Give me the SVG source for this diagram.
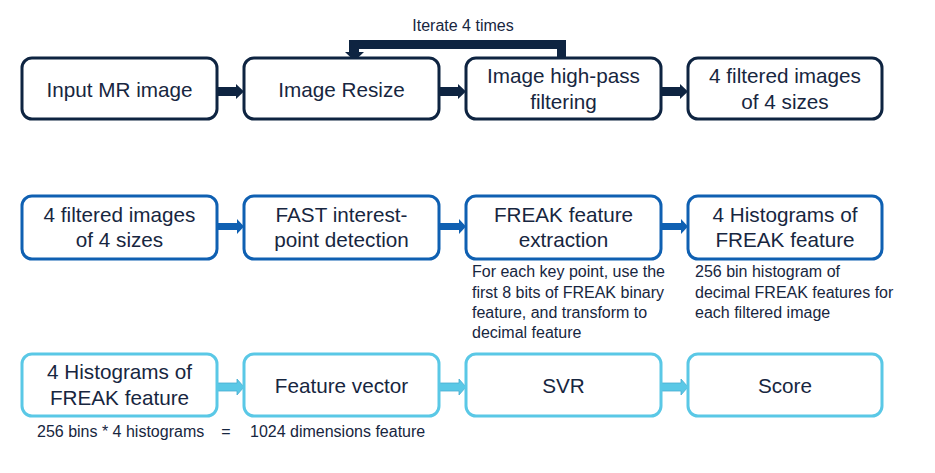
<svg xmlns="http://www.w3.org/2000/svg" width="935" height="473" viewBox="0 0 935 473">
<style>
.box{fill:#fff;stroke-width:3}
.r1{stroke:#0e2441}
.r2{stroke:#0f60b2}
.r3{stroke:#5ac8e6}
text{font-family:"Liberation Sans",Arial,sans-serif;fill:#172640}
.t{font-size:20.7px;text-anchor:middle}
.n{font-size:16px}
.a1{fill:#0e2441}
.a2{fill:#0f60b2}
.a3{fill:#5ac8e6;stroke:#46acd0;stroke-width:0.8}
</style>
<rect width="935" height="473" fill="#fff"/>
<g id="connectors">
<path class="a1" d="M217,87 H236 V84 L244,91.5 L236,99 V96 H217 Z"/>
<path class="a1" d="M439,87 H458 V84 L466,91.5 L458,99 V96 H439 Z"/>
<path class="a1" d="M661,87 H680 V84 L688,91.5 L680,99 V96 H661 Z"/>
<path class="a1" d="M566,58 V40 H349 V52 H345 L354.5,61 L364,52 H359 V49 H557 V58 Z"/>
<path class="a2" d="M217,223 H237 V219 L244,226.5 L237,234 V230 H217 Z"/>
<path class="a2" d="M439,223 H459 V219 L466,226.5 L459,234 V230 H439 Z"/>
<path class="a2" d="M661,223 H681 V219 L688,226.5 L681,234 V230 H661 Z"/>
<path class="a3" d="M217,383 H237 V379 L244,387 L237,395 V391 H217 Z"/>
<path class="a3" d="M439,383 H459 V379 L466,387 L459,395 V391 H439 Z"/>
<path class="a3" d="M661,383 H681 V379 L688,387 L681,395 V391 H661 Z"/>
<text x="463" y="31" font-size="16" text-anchor="middle">Iterate 4 times</text>
</g>
<g id="input-mr-image"><rect class="box r1" x="22" y="58" width="195" height="61" rx="10"/><text class="t" x="119.5" y="97">Input MR image</text></g>
<g id="image-resize"><rect class="box r1" x="244" y="58" width="195" height="61" rx="10"/><text class="t" x="341.5" y="97">Image Resize</text></g>
<g id="high-pass"><rect class="box r1" x="466" y="58" width="195" height="61" rx="10"/><text class="t" x="563.5" y="83">Image high-pass</text><text class="t" x="563.5" y="109">filtering</text></g>
<g id="filtered-1"><rect class="box r1" x="688" y="58" width="194" height="61" rx="10"/><text class="t" x="785" y="83">4 filtered images</text><text class="t" x="785" y="109">of 4 sizes</text></g>

<g id="filtered-2"><rect class="box r2" x="22" y="196" width="195" height="63" rx="10"/><text class="t" x="119.5" y="222">4 filtered images</text><text class="t" x="119.5" y="247">of 4 sizes</text></g>
<g id="fast"><rect class="box r2" x="244" y="196" width="195" height="63" rx="10"/><text class="t" x="341.5" y="222">FAST interest-</text><text class="t" x="341.5" y="247">point detection</text></g>
<g id="freak"><rect class="box r2" x="466" y="196" width="195" height="63" rx="10"/><text class="t" x="563.5" y="222">FREAK feature</text><text class="t" x="563.5" y="247">extraction</text>
<text class="n" x="472" y="277">For each key point, use the</text><text class="n" x="472" y="297.5">first 8 bits of FREAK binary</text><text class="n" x="472" y="318">feature, and transform to</text><text class="n" x="472" y="338">decimal feature</text></g>
<g id="histograms-1"><rect class="box r2" x="688" y="196" width="194" height="63" rx="10"/><text class="t" x="785" y="222">4 Histograms of</text><text class="t" x="785" y="247">FREAK feature</text>
<text class="n" x="695" y="277">256 bin histogram of</text><text class="n" x="695" y="297.5">decimal FREAK features for</text><text class="n" x="695" y="318">each filtered image</text></g>

<g id="histograms-2"><rect class="box r3" x="22" y="354" width="195" height="62" rx="10"/><text class="t" x="119.5" y="379">4 Histograms of</text><text class="t" x="119.5" y="405">FREAK feature</text>
<text class="n" x="37" y="437">256 bins * 4 histograms</text><text class="n" x="226" y="437" text-anchor="middle">=</text><text class="n" x="250" y="437">1024 dimensions feature</text></g>
<g id="feature-vector"><rect class="box r3" x="244" y="354" width="195" height="62" rx="10"/><text class="t" x="341.5" y="393">Feature vector</text></g>
<g id="svr"><rect class="box r3" x="466" y="354" width="195" height="62" rx="10"/><text class="t" x="563.5" y="393">SVR</text></g>
<g id="score"><rect class="box r3" x="688" y="354" width="194" height="62" rx="10"/><text class="t" x="785" y="393">Score</text></g>
</svg>
